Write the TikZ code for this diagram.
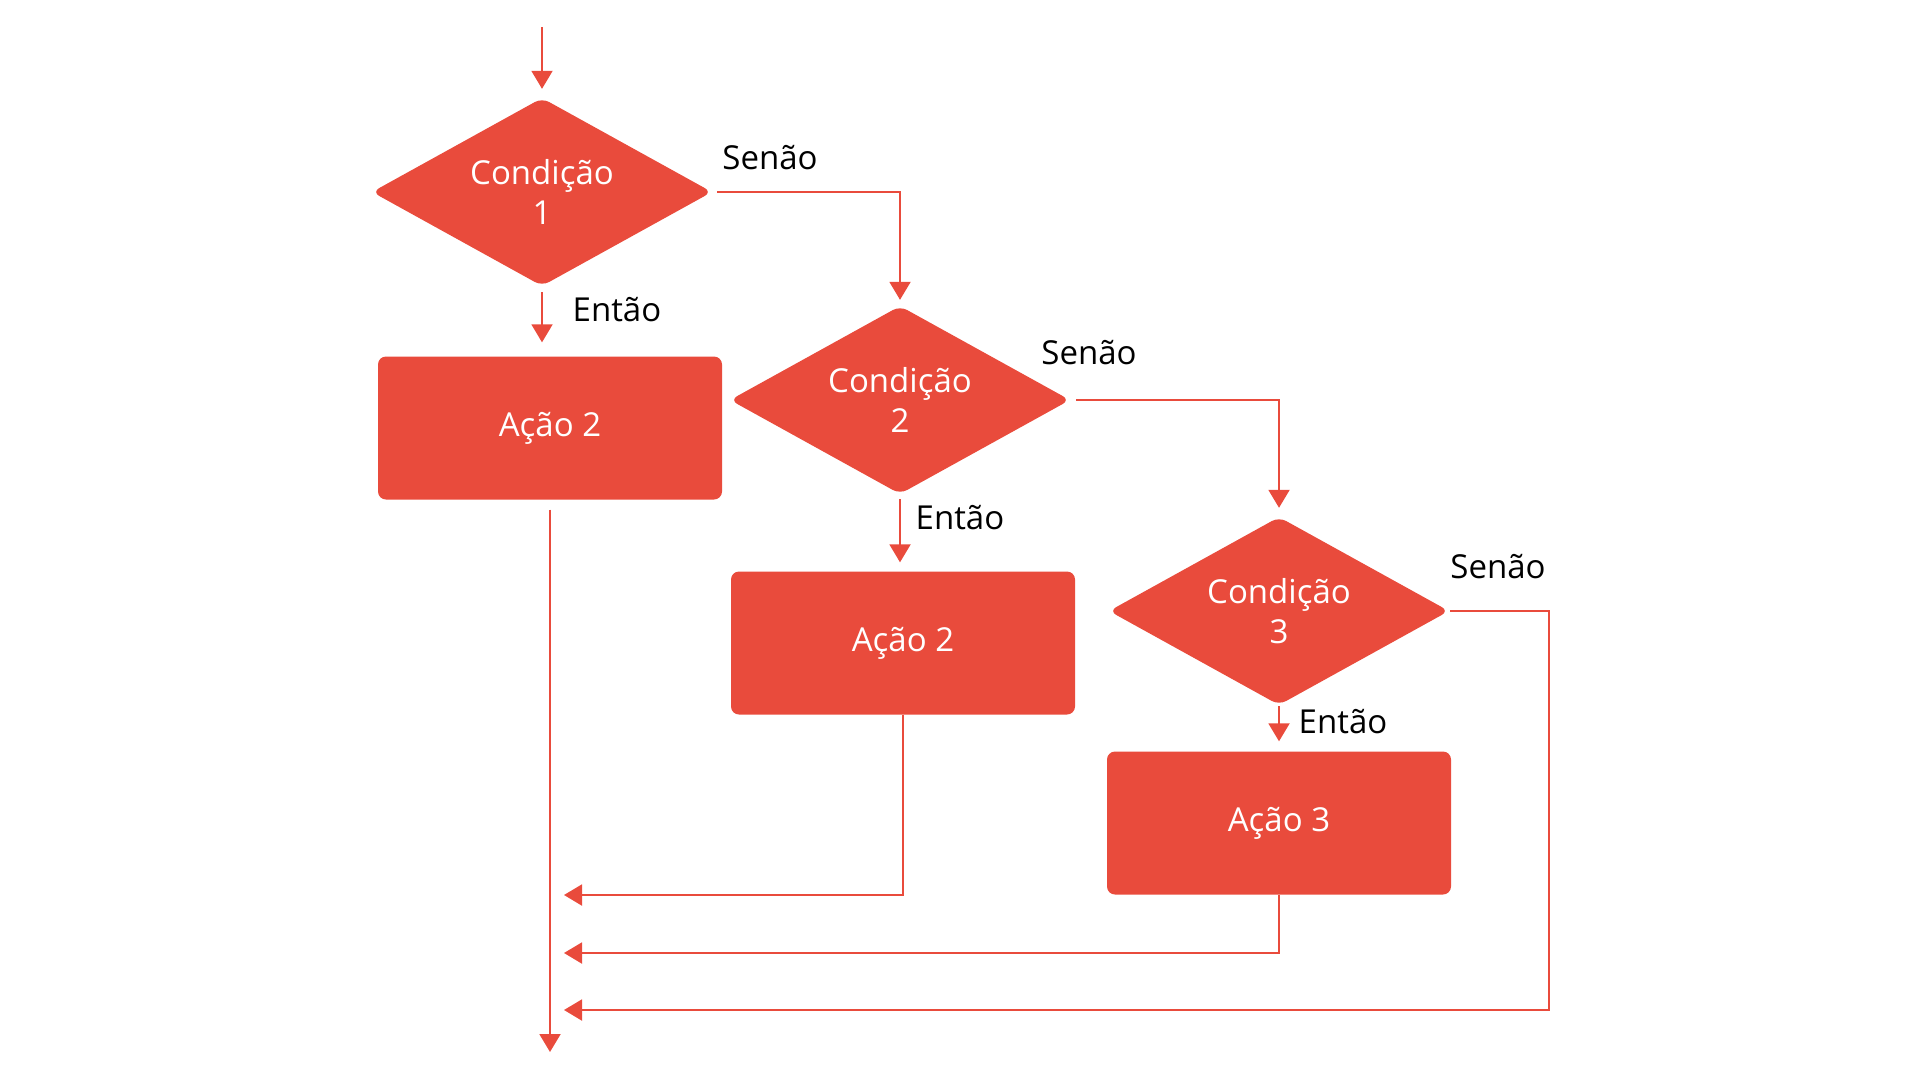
\documentclass[tikz,border=0pt]{standalone}
\usepackage{fontspec}
\setmainfont{Open Sans}
\usetikzlibrary{shapes.geometric,arrows.meta}
\definecolor{flowred}{HTML}{E94B3C}

\begin{document}
\begin{tikzpicture}[x=1pt,y=-1pt,
  cond/.style={diamond,aspect=1.8,fill=flowred,text=white,minimum width=340pt,minimum height=188pt,inner sep=0pt,rounded corners=8pt,align=center,font=\fontsize{33}{40}\selectfont},
  act/.style={rectangle,fill=flowred,text=white,minimum width=344pt,minimum height=143pt,rounded corners=8pt,font=\fontsize{33}{40}\selectfont},
  flow/.style={draw=flowred,line width=2pt,-{Triangle[length=18pt,width=21pt]}},
  lbl/.style={anchor=base,font=\fontsize{33}{40}\selectfont}]
\useasboundingbox (0,0) rectangle (1920,1080);
\coordinate (start) at (542,27);
\node[cond] (c1) at (542,192) {Condição\\1};
\node[act] (a1) at (550,428) {Ação 2};
\node[cond] (c2) at (900,400) {Condição\\2};
\node[act] (a2) at (903,643) {Ação 2};
\node[cond] (c3) at (1279,611) {Condição\\3};
\node[act] (a3) at (1279,823) {Ação 3};
\coordinate (out) at (550,1052);
\coordinate (ret1) at (564,895);
\coordinate (ret2) at (564,953);
\coordinate (ret3) at (564,1010);
\coordinate (corner3) at (1549,1010);
\node[lbl] (senao1) at (770,169) {Senão};
\node[lbl] (entao1) at (617,321) {Então};
\node[lbl] (senao2) at (1089,364) {Senão};
\node[lbl] (entao2) at (960,529) {Então};
\node[lbl] (senao3) at (1498,578) {Senão};
\node[lbl] (entao3) at (1343,733) {Então};
\draw[flow] (start) -- ([yshift=9pt]c1.north);
\draw[flow] ([xshift=5pt]c1.east) -| ([yshift=6pt]c2.north);
\draw[flow] ([yshift=-6pt]c1.south) -- ([yshift=14pt]c1.south |- a1.north);
\draw[flow] ([yshift=-10pt]a1.south) -- (out);
\draw[flow] ([xshift=6pt]c2.east) -| ([yshift=9pt]c3.north);
\draw[flow] ([yshift=-5pt]c2.south) -- ([yshift=9pt]c2.south |- a2.north);
\draw[flow] ([xshift=1pt]c3.east) -| (corner3) -- (ret3);
\draw[flow] ([yshift=-1pt]c3.south) -- ([yshift=10pt]a3.north);
\draw[flow] (a2.south) |- (ret1);
\draw[flow] (a3.south) |- (ret2);
\end{tikzpicture}
\end{document}
